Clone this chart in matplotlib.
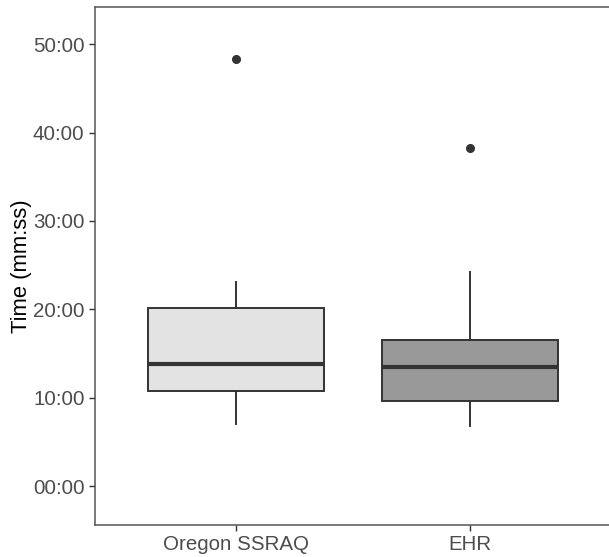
import matplotlib
matplotlib.use("Agg")
import matplotlib.pyplot as plt
from matplotlib.ticker import FuncFormatter

plt.rcParams['font.family'] = ['Liberation Sans', 'DejaVu Sans']

# Box statistics in minutes
groups = ["Oregon SSRAQ", "EHR"]
whisker_low = [7.08, 6.85]
q1 = [10.76, 9.66]
median = [13.76, 13.42]
q3 = [20.19, 16.58]
whisker_high = [23.11, 24.25]
outliers = [[48.32], [38.24]]
fills = ["#E3E3E3", "#999999"]

stats = []
for i, g in enumerate(groups):
    stats.append(dict(label=g, whislo=whisker_low[i], q1=q1[i], med=median[i],
                      q3=q3[i], whishi=whisker_high[i], fliers=outliers[i]))

fig = plt.figure(figsize=(6.09, 5.57), dpi=100)
ax = fig.add_axes([0.156, 0.0575, 0.847, 0.9299])

edge = "#333333"
bp = ax.bxp(stats, positions=[1, 2], widths=0.75, patch_artist=True, showcaps=False,
            boxprops=dict(edgecolor=edge, linewidth=1.4),
            whiskerprops=dict(color=edge, linewidth=1.4),
            medianprops=dict(color=edge, linewidth=3),
            flierprops=dict(marker='o', markerfacecolor=edge, markeredgecolor=edge,
                            markersize=5.5))
for patch, c in zip(bp['boxes'], fills):
    patch.set_facecolor(c)

ax.set_xlim(0.4, 2.6)
ax.set_ylim(-4.4, 54.2)
ax.set_yticks([0, 10, 20, 30, 40, 50])
ax.yaxis.set_major_formatter(FuncFormatter(lambda v, p: f"{int(v):02d}:00"))
ax.set_xticks([1, 2])
ax.set_xticklabels(groups)

ax.tick_params(axis='both', colors=edge, labelcolor="#4D4D4D", labelsize=14.8,
               length=4, width=1)
ax.set_ylabel("Time (mm:ss)", fontsize=15.8, color="black", labelpad=1)

for s in ["left", "bottom", "top"]:
    ax.spines[s].set_color("#555555")
    ax.spines[s].set_linewidth(1.1)
ax.spines["right"].set_visible(False)

fig.savefig("out.png", dpi=100)
